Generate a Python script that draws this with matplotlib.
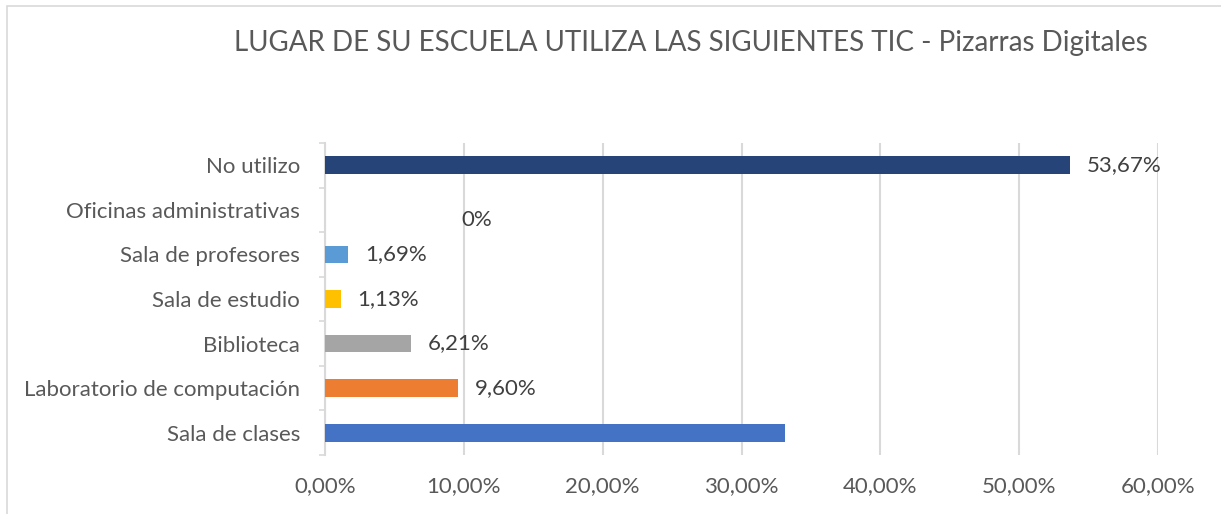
import matplotlib
matplotlib.use('Agg')
import numpy as np
import matplotlib.pyplot as plt
from matplotlib.patches import Rectangle

# Datos
CATEGORIAS = [
    'No utilizo',
    'Oficinas administrativas',
    'Sala de profesores',
    'Sala de estudio',
    'Biblioteca',
    'Laboratorio de computación',
    'Sala de clases',
]
VALORES = [53.67, 0.0, 1.69, 1.13, 6.21, 9.60, 33.15]
ETIQUETAS = ['53,67%', '0%', '1,69%', '1,13%', '6,21%', '9,60%', '']
COLORES = ['#264478', '#70AD47', '#5B9BD5', '#FFC000',
           '#A5A5A5', '#ED7D31', '#4472C4']
XTICKS = [0, 10, 20, 30, 40, 50, 60]
XTICK_LABELS = ['0,00%', '10,00%', '20,00%', '30,00%',
                '40,00%', '50,00%', '60,00%']
TITULO = 'LUGAR DE SU ESCUELA UTILIZA LAS SIGUIENTES TIC - Pizarras Digitales'

TXT = '#595959'
GRID = '#D9D9D9'

plt.rcParams['font.family'] = ['Lato', 'DejaVu Sans']

fig = plt.figure(figsize=(12.21, 5.14), dpi=100)
ax = fig.add_axes([325 / 1221, 1 - 455 / 514,
                   (1158 - 325) / 1221, (455 - 143) / 514])

y = np.arange(len(CATEGORIAS))
ax.barh(y, VALORES, height=0.4, color=COLORES, zorder=3)

for yi, v, lab in zip(y, VALORES, ETIQUETAS):
    if not lab:
        continue
    # la etiqueta del 0% está desplazada a mano en el original
    off = (98, -7) if v == 0 else (12, 0)
    ax.annotate(lab, (v, yi), xytext=off, textcoords='offset points',
                ha='left', va='center', fontsize=16, color='#404040')

ax.set_xlim(0, 60)
ax.set_ylim(len(CATEGORIAS) - 0.5, -0.5)
ax.set_xticks(XTICKS)
ax.set_xticklabels(XTICK_LABELS)
ax.set_yticks(y)
ax.set_yticklabels(CATEGORIAS)
ax.set_yticks(np.arange(len(CATEGORIAS) + 1) - 0.5, minor=True)

ax.tick_params(axis='x', length=0, pad=15, labelsize=16, labelcolor=TXT)
ax.tick_params(axis='y', which='major', length=0, pad=18,
               labelsize=16, labelcolor=TXT)
ax.tick_params(axis='y', which='minor', length=4, color=GRID, width=1.2)

ax.grid(axis='x', color=GRID, linewidth=1.5, zorder=0)
ax.set_axisbelow(True)
for s in ['top', 'right', 'bottom']:
    ax.spines[s].set_visible(False)
ax.spines['left'].set_color(GRID)
ax.spines['left'].set_linewidth(1.5)

fig.text(691 / 1221, 1 - 43 / 514, TITULO, ha='center', va='center',
         fontsize=20, color=TXT)

# borde del área del gráfico
fig.patches.append(Rectangle((7 / 1221, -0.1), 1.2, 1 - 6 / 514 + 0.1,
                             transform=fig.transFigure, fill=False,
                             edgecolor=GRID, linewidth=1.2))

fig.savefig('out.png', dpi=100)
